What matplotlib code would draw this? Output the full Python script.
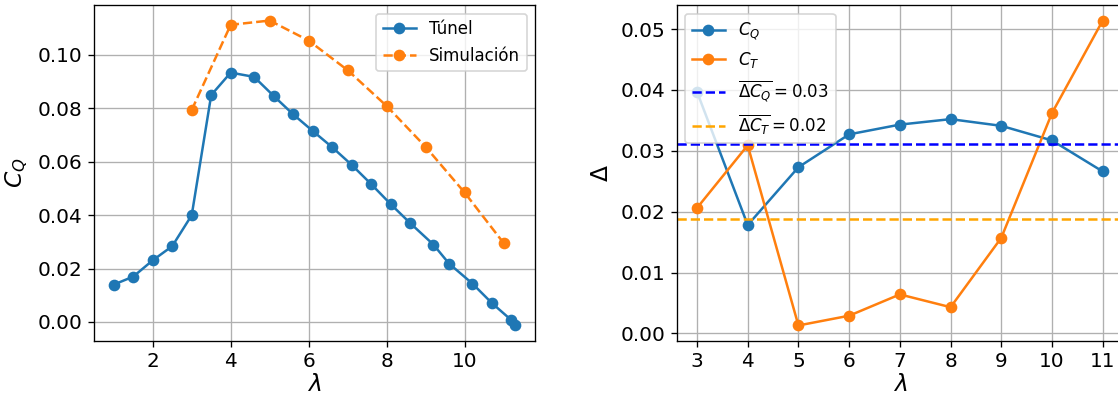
import numpy as np
import matplotlib
matplotlib.use("Agg")
import matplotlib.pyplot as plt

# Left panel data
lam_tunel = [1.0, 1.5, 2.0, 2.5, 3.0, 3.5, 4.0, 4.6, 5.1, 5.6, 6.1, 6.6, 7.1, 7.6,
             8.1, 8.6, 9.2, 9.6, 10.2, 10.7, 11.2, 11.3]
cq_tunel = [0.0140, 0.0170, 0.0231, 0.0284, 0.0400, 0.0850, 0.0934, 0.0918, 0.0847,
            0.0778, 0.0716, 0.0655, 0.0589, 0.0517, 0.0442, 0.0371, 0.0290, 0.0219,
            0.0144, 0.0071, 0.0007, -0.0013]
lam_sim = [3, 4, 5, 6, 7, 8, 9, 10, 11]
cq_sim = [0.0794, 0.1113, 0.1129, 0.1054, 0.0943, 0.0809, 0.0656, 0.0485, 0.0296]

# Right panel data
lam_delta = [3, 4, 5, 6, 7, 8, 9, 10, 11]
delta_cq = [0.0397, 0.0178, 0.0273, 0.0327, 0.0343, 0.0352, 0.0341, 0.0317, 0.0266]
delta_ct = [0.0206, 0.0309, 0.0013, 0.0029, 0.0064, 0.0043, 0.0157, 0.0362, 0.0514]

DPI = 120
fig = plt.figure(figsize=(1118 / DPI, 398 / DPI), dpi=DPI)
W, H = 1118, 398
ax1 = fig.add_axes([93.7 / W, 1 - 340.7 / H, (535.3 - 93.7) / W, (340.7 - 5.3) / H])
ax2 = fig.add_axes([676.7 / W, 1 - 340.7 / H, (1123 - 676.7) / W, (340.7 - 5.3) / H])

ax1.plot(lam_tunel, cq_tunel, 'o-', color='tab:blue', label='Túnel')
ax1.plot(lam_sim, cq_sim, 'o--', color='tab:orange', label='Simulación')
ax1.grid(True)
ax1.set_xlabel(r'$\lambda$', fontsize=14, labelpad=1)
ax1.set_ylabel(r'$C_Q$', fontsize=14)
ax1.tick_params(labelsize=12)
ax1.legend(loc='upper right', fontsize=10)

m_cq = np.mean(delta_cq)
m_ct = np.mean(delta_ct)
ax2.plot(lam_delta, delta_cq, 'o-', color='tab:blue', label=r'$C_Q$')
ax2.plot(lam_delta, delta_ct, 'o-', color='tab:orange', label=r'$C_T$')
ax2.axhline(m_cq, color='blue', linestyle='--', label=r'$\overline{\Delta C_Q} = %.2f$' % m_cq)
ax2.axhline(m_ct, color='orange', linestyle='--', label=r'$\overline{\Delta C_T} = %.2f$' % m_ct)
ax2.set_xticks(lam_delta)
ax2.grid(True)
ax2.set_xlabel(r'$\lambda$', fontsize=14, labelpad=1)
ax2.set_ylabel(r'$\Delta$', fontsize=14)
ax2.tick_params(labelsize=12)
ax2.legend(loc='upper left', fontsize=10)

fig.savefig('out.png', dpi=DPI)
